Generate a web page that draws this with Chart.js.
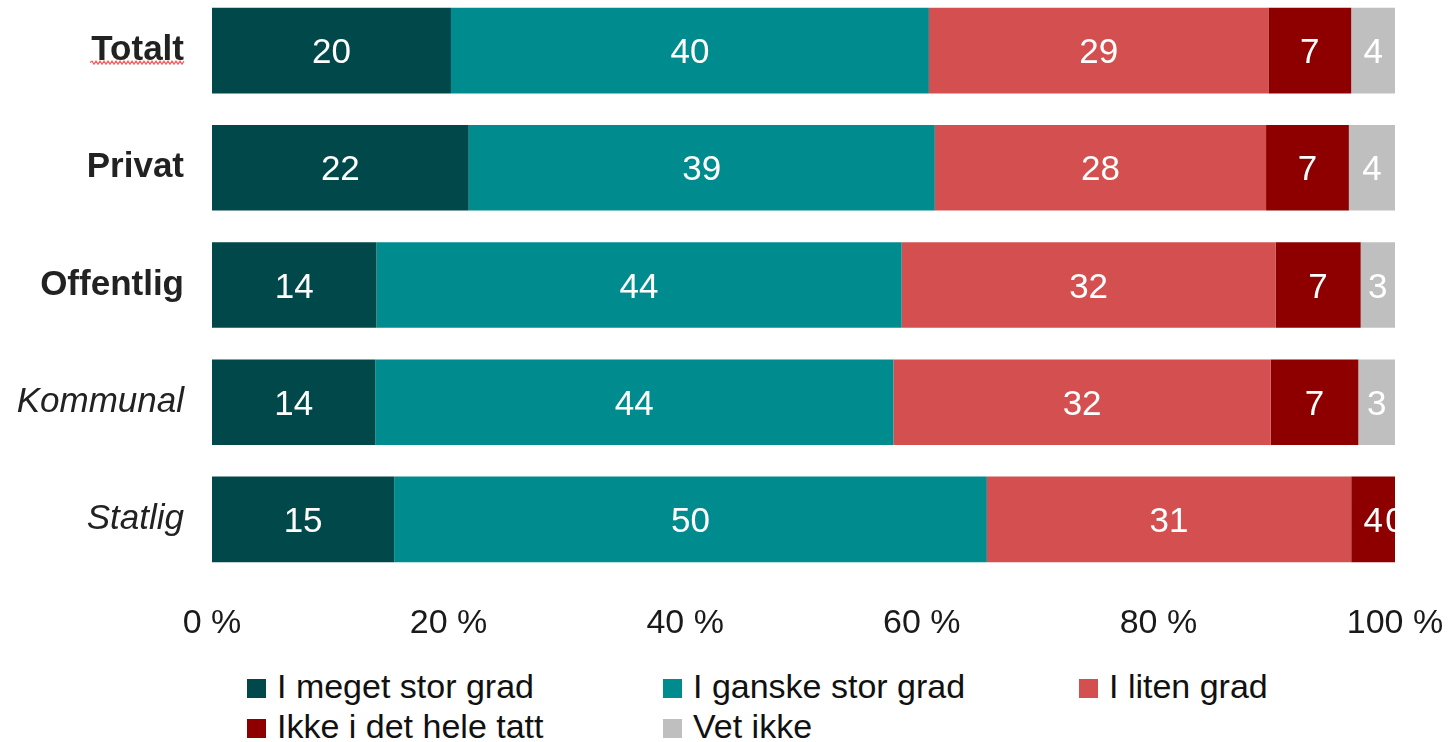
<!DOCTYPE html>
<html lang="no">
<head>
<meta charset="UTF-8">
<title>Andel etter sektor</title>
<script src="https://cdn.jsdelivr.net/npm/chart.js"></script>
<style>
    html, body { margin: 0; padding: 0; background: #fff; overflow: hidden; }
    .wrap { position: relative; width: 1450px; height: 742px; }
    .chart-box { position: absolute; left: 0; top: -8px; width: 1450px; height: 662px; }
    .legend {
        position: absolute; left: 247px; top: 669px;
        display: grid; grid-template-columns: 416px 416px 300px; row-gap: 6px;
        font-family: "Liberation Sans", Arial, sans-serif; font-size: 34px; color: #111;
    }
    .legend .item { display: flex; align-items: center; height: 34px; white-space: nowrap; }
    .legend .box { width: 19px; height: 19px; margin-right: 11px; margin-top: 4px; flex: none; }
</style>
</head>
<body>
<div class="wrap">
    <div class="chart-box"><canvas id="chart"></canvas></div>
    <div class="legend" id="legend"></div>
</div>

<script>
// kategorier (rader)
const categories = ['Totalt', 'Privat', 'Offentlig', 'Kommunal', 'Statlig'];

// serier, prosent per rad
const seriesNames = ['I meget stor grad', 'I ganske stor grad', 'I liten grad', 'Ikke i det hele tatt', 'Vet ikke'];
const megetStor  = [20.2, 21.7, 13.9, 13.8, 15.4];
const ganskeStor = [40.4, 39.4, 44.4, 43.8, 50.1];
const litenGrad  = [28.7, 28.0, 31.6, 31.9, 30.8];
const ikkeIdet   = [7.0, 7.0, 7.2, 7.4, 3.7];
const vetIkke    = [3.7, 3.9, 2.9, 3.1, 0];

const xTicks = [0, 20, 40, 60, 80, 100];
const colors = ['#01484B', '#008C8F', '#D45050', '#8E0000', '#BFBFBF'];

const FONT = '"Liberation Sans", Arial, sans-serif';

// verdietiketter midt i hvert segment
const valueLabels = {
    id: 'valueLabels',
    afterDatasetsDraw(chart) {
        const ctx = chart.ctx;
        const area = chart.chartArea;
        ctx.save();
        ctx.beginPath();
        ctx.rect(area.left, area.top, area.right - area.left, area.bottom - area.top);
        ctx.clip();
        ctx.font = '35px ' + FONT;
        ctx.fillStyle = '#ffffff';
        ctx.textAlign = 'center';
        ctx.textBaseline = 'middle';
        chart.data.datasets.forEach((ds, i) => {
            const meta = chart.getDatasetMeta(i);
            meta.data.forEach((bar, j) => {
                const v = ds.data[j];
                const x = (bar.x + bar.base) / 2;
                ctx.fillText(String(Math.round(v)), x, bar.y + 3);
            });
        });
        ctx.restore();
    }
};

// rød stavekontroll-strek under "Totalt"
const squiggle = {
    id: 'squiggle',
    afterDraw(chart) {
        const yScale = chart.scales.y;
        const ctx = chart.ctx;
        const y = yScale.getPixelForValue(0) + 12;
        ctx.save();
        ctx.strokeStyle = '#F06060';
        ctx.lineWidth = 1.2;
        ctx.beginPath();
        let x = 90;
        ctx.moveTo(x, y);
        let up = true;
        while (x < 183) {
            x += 2;
            ctx.lineTo(x, up ? y - 1.5 : y + 1.5);
            up = !up;
        }
        ctx.stroke();
        ctx.restore();
    }
};

const datasets = [megetStor, ganskeStor, litenGrad, ikkeIdet, vetIkke].map((data, i) => ({
    label: seriesNames[i],
    data: data,
    backgroundColor: colors[i],
    borderWidth: 0,
    barPercentage: 0.73,
    categoryPercentage: 1
}));

const chart = new Chart(document.getElementById('chart').getContext('2d'), {
    type: 'bar',
    data: { labels: categories, datasets: datasets },
    options: {
        indexAxis: 'y',
        responsive: true,
        maintainAspectRatio: false,
        animation: false,
        layout: { padding: { left: 0, right: 55, top: 0, bottom: 0 } },
        plugins: {
            legend: { display: false },
            tooltip: { enabled: false }
        },
        scales: {
            x: {
                stacked: true,
                min: 0,
                max: 100,
                border: { display: false },
                grid: { display: false, drawTicks: false },
                afterBuildTicks(scale) {
                    scale.ticks = xTicks.map(v => ({ value: v }));
                },
                afterFit(scale) {
                    scale.height = 76;
                    scale.paddingLeft = 0;
                    scale.paddingRight = 0;
                },
                ticks: {
                    padding: 25,
                    color: '#1a1a1a',
                    font: { family: FONT, size: 34 },
                    maxRotation: 0,
                    callback: v => v + ' %'
                }
            },
            y: {
                stacked: true,
                border: { display: false },
                grid: { display: false, drawTicks: false },
                afterFit(scale) {
                    scale.width = 212;
                    scale.paddingTop = 0;
                    scale.paddingBottom = 0;
                },
                ticks: {
                    padding: 28,
                    color: '#222',
                    font: ctx => ({
                        family: FONT,
                        size: 35,
                        weight: ctx.index < 3 ? 'bold' : 'normal',
                        style: ctx.index < 3 ? 'normal' : 'italic'
                    })
                }
            }
        }
    },
    plugins: [valueLabels, squiggle]
});

// egen forklaring i tre kolonner
const legendEl = document.getElementById('legend');
chart.data.datasets.forEach(ds => {
    const item = document.createElement('div');
    item.className = 'item';
    item.innerHTML = '<span class="box" style="background:' + ds.backgroundColor + '"></span><span>' + ds.label + '</span>';
    legendEl.appendChild(item);
});
</script>
</body>
</html>
